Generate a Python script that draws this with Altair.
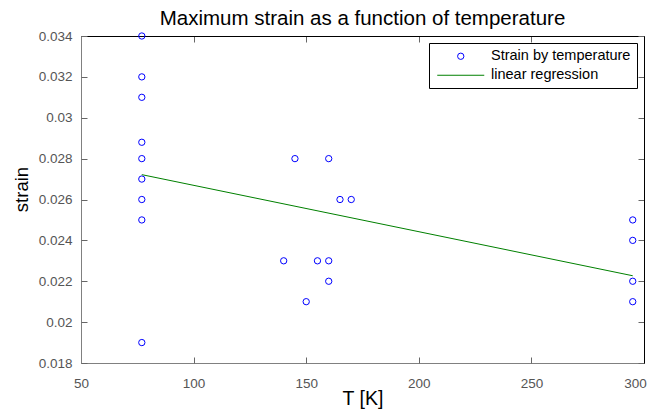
import altair as alt
import pandas as pd

# ---- data ----
temperature = [77, 77, 77, 77, 77, 77, 77, 77, 77,
               145, 160, 165, 170, 140, 155, 160, 160, 150,
               295, 295, 295, 295]
strain = [0.034, 0.032, 0.031, 0.0288, 0.028, 0.027, 0.026, 0.025, 0.019,
          0.028, 0.028, 0.026, 0.026, 0.023, 0.023, 0.023, 0.022, 0.021,
          0.025, 0.024, 0.022, 0.021]
series_names = ["Strain by temperature", "linear regression"]
series_colors = ["#0000ff", "#008000"]
x_ticks = [50, 100, 150, 200, 250, 300]
y_ticks = [0.018, 0.02, 0.022, 0.024, 0.026, 0.028, 0.03, 0.032, 0.034]

df = pd.DataFrame({"T": temperature, "strain": strain})

W, H = 563, 327
FONT = "Liberation Sans"
GRAY = "#808080"
TICK = "#666666"

x_scale = alt.Scale(domain=[50, 300], nice=False, zero=False)
y_scale = alt.Scale(domain=[0.018, 0.034], nice=False, zero=False)
color_scale = alt.Scale(domain=series_names, range=series_colors)

legend = alt.Legend(
    title=None, orient="top-right", offset=7,
    strokeColor="#000000", fillColor="#ffffff", padding=6, cornerRadius=0,
    labelFont=FONT, labelFontSize=14.5, labelColor="#000000", labelOffset=23,
    symbolType=alt.ExprRef(expr="datum.value == 'linear regression' ? 'stroke' : 'circle'"),
    symbolSize=alt.ExprRef(expr="datum.value == 'linear regression' ? 2209 : 40"),
    symbolOffset=18.5,
    symbolStrokeWidth=1, symbolFillColor="transparent", rowPadding=4,
)

# main layer: labelled bottom / left axes
x_main = alt.Axis(orient="bottom", title="T [K]", values=x_ticks, ticks=False, grid=False,
                  domainColor=GRAY, labelColor="#555555", labelFontSize=13.5, labelFont=FONT,
                  labelFlush=False, labelPadding=13,
                  labelOffset={"condition": {"test": "datum.value == 300", "value": -9},
                               "value": 0},
                  titleFont=FONT, titleFontSize=19.5,
                  titleFontWeight="normal", titleColor="#000000", titlePadding=0)
y_main = alt.Axis(orient="left", title="strain", values=y_ticks, format=".3~f", ticks=False,
                  grid=False, domainColor=GRAY, labelColor="#555555", labelFontSize=13.5,
                  labelFont=FONT, labelFlush=False, labelPadding=9, titleFont=FONT,
                  titleFontSize=18.5, titleFontWeight="normal", titleColor="#000000",
                  titleX=-54, titleY=153, titleBaseline="alphabetic", titleAngle=270)

points = alt.Chart(df).transform_calculate(
    series="'" + series_names[0] + "'"
).mark_point(filled=False, size=40, strokeWidth=1, opacity=1).encode(
    x=alt.X("T:Q", scale=x_scale, axis=x_main),
    y=alt.Y("strain:Q", scale=y_scale, axis=y_main),
    color=alt.Color("series:N", scale=color_scale, legend=legend),
)

# regression layer: inward ticks on bottom and left edges
x_in_bottom = alt.Axis(orient="bottom", offset=-6, values=x_ticks, labels=False, domain=False,
                       ticks=True, tickSize=6, tickColor=TICK, title=None, grid=False)
y_in_left = alt.Axis(orient="left", offset=-6, values=y_ticks, labels=False, domain=False,
                     ticks=True, tickSize=6, tickColor=TICK, title=None, grid=False)

reg = alt.Chart(df).transform_regression("T", "strain").transform_calculate(
    series="'" + series_names[1] + "'"
).mark_line(strokeWidth=1).encode(
    x=alt.X("T:Q", scale=x_scale, axis=x_in_bottom),
    y=alt.Y("strain:Q", scale=y_scale, axis=y_in_left),
    color=alt.Color("series:N", scale=color_scale, legend=legend),
)

# frame layer: top / right edges with inward ticks
x_in_top = alt.Axis(orient="bottom", offset=-H, values=x_ticks, labels=False, domain=True,
                    domainColor="#000000", ticks=True, tickSize=6, tickColor=TICK,
                    title=None, grid=False)
y_in_right = alt.Axis(orient="left", offset=-W, values=y_ticks, labels=False, domain=True,
                      domainColor="#000000", ticks=True, tickSize=6, tickColor=TICK,
                      title=None, grid=False)

frame = alt.Chart(df).mark_point(opacity=0).encode(
    x=alt.X("T:Q", scale=x_scale, axis=x_in_top),
    y=alt.Y("strain:Q", scale=y_scale, axis=y_in_right),
)

chart = alt.layer(points, reg, frame).resolve_axis(
    x="independent", y="independent"
).properties(
    width=W, height=H,
    padding={"left": 73, "top": 28, "right": 5, "bottom": 50},
    autosize=alt.AutoSizeParams(type="none"),
    title=alt.Title("Maximum strain as a function of temperature", font=FONT, fontSize=20.5,
                    fontWeight="normal", color="#000000", offset=0,
                    anchor="middle", frame="group"),
).configure_view(stroke=None).configure(font=FONT)

chart.save("out.html", embed_options={"renderer": "svg", "actions": False})
